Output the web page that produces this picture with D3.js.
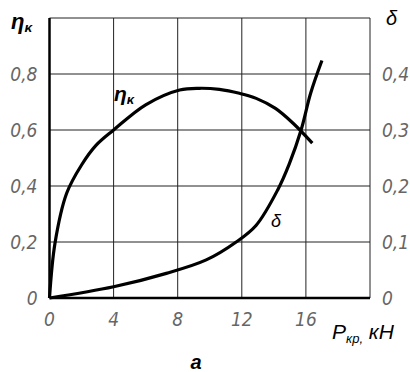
<!DOCTYPE html>
<html>
<head>
<meta charset="utf-8">
<script src="https://cdn.jsdelivr.net/npm/d3@7"></script>
<style>
  body { margin: 0; background: #fff; }
  svg { display: block; }
</style>
</head>
<body>
<script>
// efficiency curve (left axis) and slip curve (right axis) vs. drawbar pull
const etaP = [0, 0.34, 1.07, 2.0, 2.9, 4.0, 6.0, 8.12, 9.37, 10.6, 11.85, 12.9, 14.1, 15.2, 16.4];
const etaV = [0, 0.195, 0.374, 0.475, 0.545, 0.60, 0.69, 0.743, 0.749, 0.745, 0.731, 0.713, 0.677, 0.624, 0.553];
const deltaP = [0, 4.0, 7.29, 9.78, 11.65, 12.9, 14.24, 14.97, 15.7, 16.3, 17.0];
const deltaV = [0, 0.020, 0.044, 0.068, 0.10, 0.13, 0.193, 0.24, 0.30, 0.366, 0.424];

const xTicks = [0, 4, 8, 12, 16];
const etaTicks = [0, 0.2, 0.4, 0.6, 0.8];
const deltaTicks = [0, 0.1, 0.2, 0.3, 0.4];

const margin = { top: 18, right: 40, bottom: 74, left: 49.5 };
const W = 410, H = 372;
const width = W - margin.left - margin.right;
const height = H - margin.top - margin.bottom;

const svg = d3.select("body").append("svg").attr("width", W).attr("height", H);
const g = svg.append("g").attr("transform", `translate(${margin.left},${margin.top})`);

const x = d3.scaleLinear().domain([0, 20]).range([0, width]);
const yEta = d3.scaleLinear().domain([0, 1.0]).range([height, 0]);
const yDelta = d3.scaleLinear().domain([0, 0.5]).range([height, 0]);

const tickFont = "'Liberation Sans Narrow', 'DejaVu Sans Condensed', sans-serif";

// grid
g.selectAll(".vgrid").data([4, 8, 12, 16, 20]).enter().append("line")
  .attr("x1", d => x(d)).attr("x2", d => x(d))
  .attr("y1", 0).attr("y2", height)
  .attr("stroke", "#222").attr("stroke-width", 1);
g.selectAll(".hgrid").data([0.2, 0.4, 0.6, 0.8, 1.0]).enter().append("line")
  .attr("x1", 0).attr("x2", width)
  .attr("y1", d => yEta(d)).attr("y2", d => yEta(d))
  .attr("stroke", "#222").attr("stroke-width", 1);

// main axes (thick left and bottom)
g.append("line").attr("x1", 0).attr("x2", 0).attr("y1", 0).attr("y2", height)
  .attr("stroke", "#000").attr("stroke-width", 2.5);
g.append("line").attr("x1", 0).attr("x2", width).attr("y1", height).attr("y2", height)
  .attr("stroke", "#000").attr("stroke-width", 2.5);

// tick labels
const fmt = d => d === 0 ? "0" : d3.format(".1f")(d).replace(".", ",");
function tickText(sel) {
  sel.attr("font-family", tickFont).attr("font-style", "italic")
    .attr("font-size", "19px").attr("fill", "#666");
}
g.selectAll(".ylab").data(etaTicks).enter().append("text")
  .attr("x", -12).attr("y", d => yEta(d)).attr("dy", "0.35em")
  .attr("text-anchor", "end")
  .call(tickText)
  .text(fmt);
g.selectAll(".rlab").data(deltaTicks).enter().append("text")
  .attr("x", width + 12).attr("y", d => yDelta(d)).attr("dy", "0.35em")
  .attr("text-anchor", "start")
  .call(tickText)
  .text(fmt);
g.selectAll(".xlab").data(xTicks).enter().append("text")
  .attr("x", d => x(d)).attr("y", height + 28)
  .attr("text-anchor", "middle")
  .call(tickText)
  .text(d => d);

// curves
const line = d3.line().curve(d3.curveCatmullRom.alpha(0.5));
g.append("path")
  .attr("d", line(etaP.map((p, i) => [x(p), yEta(etaV[i])])))
  .attr("fill", "none").attr("stroke", "#000").attr("stroke-width", 3.2)
  .attr("stroke-linejoin", "round");
g.append("path")
  .attr("d", line(deltaP.map((p, i) => [x(p), yDelta(deltaV[i])])))
  .attr("fill", "none").attr("stroke", "#000").attr("stroke-width", 3.2)
  .attr("stroke-linejoin", "round");

// labels
const lblFont = "'Liberation Sans', 'DejaVu Sans', sans-serif";
function etaLabel(px, py, size) {
  const t = svg.append("text").attr("x", px).attr("y", py)
    .attr("font-family", lblFont).attr("font-style", "italic").attr("font-weight", "bold")
    .attr("font-size", size + "px").attr("fill", "#000");
  t.append("tspan").text("η");
  t.append("tspan").attr("font-size", (size * 0.62) + "px").attr("dy", size * 0.12).text("κ");
}
etaLabel(11, 29, 22);
etaLabel(114, 101, 21);

svg.append("text").attr("x", 386).attr("y", 25)
  .attr("font-family", lblFont).attr("font-style", "italic")
  .attr("font-size", "20px").attr("fill", "#000").text("δ");
svg.append("text").attr("x", 271).attr("y", 227)
  .attr("font-family", lblFont).attr("font-style", "italic")
  .attr("font-size", "18px").attr("fill", "#000").text("δ");

const pt = svg.append("text").attr("x", 332).attr("y", 339)
  .attr("font-family", lblFont).attr("font-style", "italic")
  .attr("font-size", "21px").attr("fill", "#000");
pt.append("tspan").text("P");
pt.append("tspan").attr("font-size", "13px").attr("dy", 4).text("кр,");
pt.append("tspan").attr("dy", -4).text(" кН");

svg.append("text").attr("x", 196).attr("y", 369)
  .attr("text-anchor", "middle")
  .attr("font-family", lblFont).attr("font-style", "italic").attr("font-weight", "bold")
  .attr("font-size", "20px").attr("fill", "#000").text("а");
</script>
</body>
</html>
